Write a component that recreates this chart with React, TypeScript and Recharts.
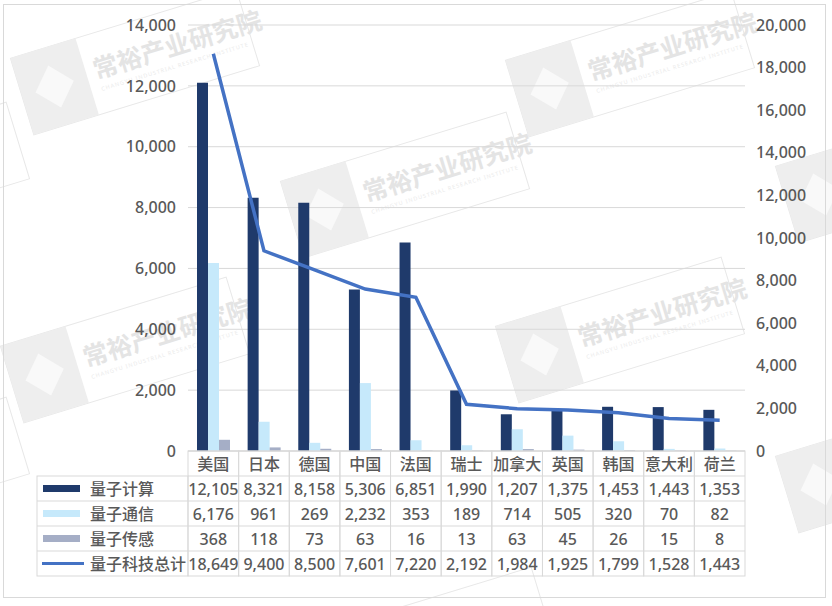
import React from "react";
import { ComposedChart, Bar, Line, XAxis, YAxis, CartesianGrid } from "recharts";

const categories = ["美国", "日本", "德国", "中国", "法国", "瑞士", "加拿大", "英国", "韩国", "意大利", "荷兰"];
const computing = [12105, 8321, 8158, 5306, 6851, 1990, 1207, 1375, 1453, 1443, 1353];
const communication = [6176, 961, 269, 2232, 353, 189, 714, 505, 320, 70, 82];
const sensing = [368, 118, 73, 63, 16, 13, 63, 45, 26, 15, 8];
const total = [18649, 9400, 8500, 7601, 7220, 2192, 1984, 1925, 1799, 1528, 1443];

const leftTicks = [0, 2000, 4000, 6000, 8000, 10000, 12000, 14000];
const rightTicks = [0, 2000, 4000, 6000, 8000, 10000, 12000, 14000, 16000, 18000, 20000];

const seriesNames = ["量子计算", "量子通信", "量子传感", "量子科技总计"];
const seriesValues = [computing, communication, sensing, total];

const COLORS = ["#1f3a6b", "#c6e9fb", "#a5aec6", "#4472c4"];
const TEXT = "#595959";
const BORDER = "#d9d9d9";
const FONT = "'Noto Sans', 'Noto Sans CJK SC', sans-serif";
const CJK = "'Noto Sans CJK SC', sans-serif";

const W = 832;
const H = 606;
const PLOT_LEFT = 188;
const PLOT_RIGHT = 745;
const BAND = (PLOT_RIGHT - PLOT_LEFT) / categories.length;
const ROW = 25;
const LEGEND_LEFT = 37;

const data = categories.map((name, i) => ({
  name,
  computing: computing[i],
  communication: communication[i],
  sensing: sensing[i],
  total: total[i],
}));

const fmt = (v: number) => v.toLocaleString("en-US");

function TableTick(props: any) {
  const { x, y, payload } = props;
  const i = categories.indexOf(payload.value);
  const left = x - BAND / 2;
  const textStyle = { fontSize: 16, fill: TEXT, fontWeight: 500, fontFamily: FONT };
  return (
    <g>
      <rect x={left} y={y} width={BAND} height={ROW * 5} fill="none" stroke={BORDER} />
      {[1, 2, 3, 4].map((r) => (
        <line key={r} x1={left} x2={left + BAND} y1={y + ROW * r} y2={y + ROW * r} stroke={BORDER} />
      ))}
      <text x={x} y={y + ROW / 2} textAnchor="middle" dominantBaseline="central" style={textStyle}>
        {payload.value}
      </text>
      {seriesValues.map((vals, r) => (
        <text
          key={r}
          x={x}
          y={y + ROW * (r + 1) + ROW / 2}
          textAnchor="middle"
          dominantBaseline="central"
          style={textStyle}
        >
          {fmt(vals[i])}
        </text>
      ))}
      {i === 0 && (
        <g>
          <rect
            x={LEGEND_LEFT}
            y={y + ROW}
            width={left - LEGEND_LEFT}
            height={ROW * 4}
            fill="none"
            stroke={BORDER}
          />
          {seriesNames.map((name, r) => {
            const cy = y + ROW * (r + 1) + ROW / 2;
            return (
              <g key={name}>
                {r > 0 && (
                  <line x1={LEGEND_LEFT} x2={left} y1={y + ROW * (r + 1)} y2={y + ROW * (r + 1)} stroke={BORDER} />
                )}
                {r < 3 ? (
                  <rect x={43} y={cy - 3.5} width={37} height={7} fill={COLORS[r]} />
                ) : (
                  <line x1={42} x2={84} y1={cy} y2={cy} stroke={COLORS[3]} strokeWidth={3} />
                )}
                <text x={90} y={cy} dominantBaseline="central" style={textStyle}>
                  {name}
                </text>
              </g>
            );
          })}
        </g>
      )}
    </g>
  );
}

// faint watermark stamps behind the chart; edge ones are drawn without text
function Watermark({ cx, cy, label }: { cx: number; cy: number; label: boolean }) {
  return (
    <g transform={`translate(${cx},${cy}) rotate(-17)`}>
      <rect x={-118} y={-40} width={236} height={80} fill="#ffffff" stroke="#e8e8e8" />
      <rect x={-118} y={-40} width={68} height={80} fill="#eeeeee" />
      <polygon points="-84,-22 -64,0 -84,22 -104,0" fill="#f9f9f9" />
      {label && (
        <>
          <text x={-42} y={5} style={{ fontSize: 25, fill: "#e4e4e4", fontWeight: 700, fontFamily: CJK }}>
            常裕产业研究院
          </text>
          <text x={-40} y={18} style={{ fontSize: 5.5, fill: "#eaeaea", fontFamily: FONT, letterSpacing: 1 }}>
            CHANGYU INDUSTRIAL RESEARCH INSTITUTE
          </text>
        </>
      )}
    </g>
  );
}

const marks: [number, number, boolean][] = [
  [135, 62, true],
  [-95, 175, false],
  [405, 185, true],
  [630, 64, true],
  [620, 330, true],
  [125, 350, true],
  [-95, 470, false],
  [900, 460, false],
  [900, 170, false],
  [430, 640, false],
];

export default function App() {
  return (
    <div style={{ position: "relative", width: W, height: H, fontFamily: FONT, background: "#fff" }}>
      <style>{"body{margin:0}"}</style>
      <svg width={W} height={H} style={{ position: "absolute", left: 0, top: 0 }}>
        {marks.map(([x, y, label], k) => (
          <Watermark key={k} cx={x} cy={y} label={label} />
        ))}
        <rect x={3.5} y={4.5} width={822} height={593} fill="none" stroke={BORDER} />
      </svg>
      <div style={{ position: "absolute", left: 0, top: 0 }}>
        <ComposedChart
          width={W}
          height={H}
          data={data}
          margin={{ top: 25, right: 0, bottom: 30, left: 0 }}
          barGap={0}
          barSize={11}
        >
          <CartesianGrid vertical={false} stroke={BORDER} yAxisId="left" />
          <XAxis
            dataKey="name"
            height={125}
            interval={0}
            tickLine={false}
            tickSize={0}
            tickMargin={0}
            axisLine={{ stroke: BORDER }}
            tick={<TableTick />}
          />
          <YAxis
            yAxisId="left"
            width={188}
            domain={[0, 14000]}
            ticks={leftTicks}
            tickFormatter={fmt}
            axisLine={false}
            tickLine={false}
            tickSize={0}
            tickMargin={12}
            tick={{ fontSize: 16, fill: TEXT, fontWeight: 500, fontFamily: FONT }}
          />
          <YAxis
            yAxisId="right"
            orientation="right"
            width={87}
            domain={[0, 20000]}
            ticks={rightTicks}
            tickFormatter={fmt}
            axisLine={false}
            tickLine={false}
            tickSize={0}
            tickMargin={11}
            tick={{ fontSize: 16, fill: TEXT, fontWeight: 500, fontFamily: FONT, textAnchor: "start" }}
          />
          <Bar yAxisId="left" dataKey="computing" name={seriesNames[0]} fill={COLORS[0]} isAnimationActive={false} />
          <Bar yAxisId="left" dataKey="communication" name={seriesNames[1]} fill={COLORS[1]} isAnimationActive={false} />
          <Bar yAxisId="left" dataKey="sensing" name={seriesNames[2]} fill={COLORS[2]} isAnimationActive={false} />
          <Line
            yAxisId="right"
            type="linear"
            dataKey="total"
            name={seriesNames[3]}
            stroke={COLORS[3]}
            strokeWidth={3.5}
            dot={false}
            isAnimationActive={false}
          />
        </ComposedChart>
      </div>
    </div>
  );
}
